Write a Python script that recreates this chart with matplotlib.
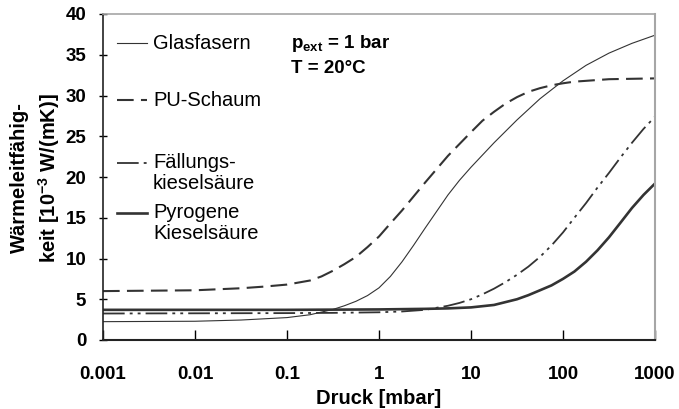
import matplotlib.pyplot as plt

plt.rcParams['font.family'] = ['Liberation Sans', 'DejaVu Sans']
plt.rcParams['mathtext.fontset'] = 'custom'
plt.rcParams['mathtext.rm'] = 'Liberation Sans'
plt.rcParams['mathtext.bf'] = 'Liberation Sans:bold'

# Druck [mbar] und Waermeleitfaehigkeit [1e-3 W/(mK)]
glas_p = [0.001, 0.01, 0.0316, 0.0562, 0.1, 0.178, 0.316, 0.42, 0.562, 0.75, 1, 1.33, 1.78, 2.37,
          3.16, 5.62, 7.5, 10, 17.8, 31.6, 56.2, 100, 178, 316, 562, 1000]
glas_v = [2.25, 2.3, 2.45, 2.6, 2.75, 3.1, 3.75, 4.2, 4.75, 5.45, 6.4, 7.8, 9.6, 11.6,
          13.7, 17.8, 19.6, 21.2, 24.2, 27.0, 29.6, 31.8, 33.7, 35.2, 36.4, 37.4]

pu_p = [0.001, 0.00316, 0.01, 0.0316, 0.0562, 0.1, 0.178, 0.237, 0.316, 0.42, 0.562, 0.75, 1, 1.33,
        1.78, 3.16, 5.62, 10, 13.3, 17.8, 23.7, 31.6, 42, 56.2, 75, 100, 133, 178, 316, 1000]
pu_v = [6.0, 6.05, 6.1, 6.35, 6.55, 6.8, 7.3, 7.8, 8.5, 9.3, 10.2, 11.4, 12.7, 14.3,
        15.9, 19.3, 22.6, 25.5, 26.9, 28.0, 29.0, 29.8, 30.45, 30.9, 31.25, 31.5, 31.7, 31.8, 32.0, 32.1]

fall_p = [0.001, 0.1, 0.316, 1, 1.78, 3.16, 5.62, 7.5, 10, 13.3, 17.8, 23.7, 31.6, 42, 56.2, 75,
          100, 133, 178, 237, 316, 422, 562, 750, 1000]
fall_v = [3.25, 3.3, 3.33, 3.4, 3.5, 3.7, 4.2, 4.55, 5.0, 5.6, 6.3, 7.1, 8.0, 9.0, 10.2, 11.6,
          13.2, 15.0, 16.8, 18.7, 20.5, 22.4, 24.2, 25.9, 27.4]

pyro_p = [0.001, 0.1, 1, 3.16, 5.62, 10, 17.8, 31.6, 42, 56.2, 75, 100, 133, 178, 237, 316, 422,
          562, 750, 1000]
pyro_v = [3.7, 3.7, 3.75, 3.82, 3.88, 4.0, 4.3, 5.0, 5.5, 6.1, 6.7, 7.5, 8.4, 9.6, 11.0, 12.6, 14.4,
          16.2, 17.8, 19.2]

x_ticks = [0.001, 0.01, 0.1, 1, 10, 100, 1000]
x_labels = ['0.001', '0.01', '0.1', '1', '10', '100', '1000']
y_ticks = [0, 5, 10, 15, 20, 25, 30, 35, 40]

farbe = '#333333'
stil_glas = dict(color=farbe, lw=0.8, ls='-')
stil_pu = dict(color=farbe, lw=1.5, ls=(0, (8, 3.5)))
stil_fall = dict(color=farbe, lw=1.3, ls=(0, (12, 2.8, 1.6, 2.8, 1.6, 2.8)))
stil_pyro = dict(color=farbe, lw=1.9, ls='-')

fig = plt.figure(figsize=(6.79, 4.09), dpi=100)
ax = fig.add_axes([103 / 679, 69 / 409, 552 / 679, 326 / 409])

ax.plot(glas_p, glas_v, **stil_glas)
ax.plot(pu_p, pu_v, **stil_pu)
ax.plot(fall_p, fall_v, **stil_fall)
ax.plot(pyro_p, pyro_v, **stil_pyro)

ax.set_xscale('log')
ax.set_xlim(0.001, 1000)
ax.set_ylim(0, 40)
ax.set_xticks(x_ticks)
ax.set_xticklabels(x_labels)
ax.minorticks_off()
ax.set_yticks(y_ticks)
ax.tick_params(axis='x', direction='in', length=7, width=1, pad=19, labelsize=13.5)
ax.tick_params(axis='y', direction='inout', length=6, width=1, pad=9, labelsize=13.5)
for lab in ax.get_xticklabels() + ax.get_yticklabels():
    lab.set_fontweight('bold')

ax.spines['left'].set_color('#222222')
ax.spines['bottom'].set_color('#222222')
ax.spines['left'].set_linewidth(1.2)
ax.spines['bottom'].set_linewidth(1.5)
ax.spines['top'].set_color('#a6a6a6')
ax.spines['right'].set_color('#a6a6a6')
ax.spines['top'].set_linewidth(1.2)
ax.spines['right'].set_linewidth(1.5)

ax.set_xlabel('Druck [mbar]', fontsize=14.5, fontweight='bold')
ax.xaxis.set_label_coords(0.5, -0.178)
ax.xaxis.label.set_va('center')
ax.set_ylabel('Wärmeleitfähig-\nkeit [10$^{\\mathbf{-3}}$ W/(mK)]', fontsize=14.5, fontweight='bold',
              linespacing=1.35)
ax.yaxis.set_label_coords(-0.122, 0.497)
ax.yaxis.label.set_va('center')

# Legende von Hand, wie im Original
eintraege = [(stil_glas, ['Glasfasern'], 0.911),
             (stil_pu, ['PU-Schaum'], 0.736),
             (stil_fall, ['Fällungs-', 'kieselsäure'], 0.543),
             (stil_pyro, ['Pyrogene', 'Kieselsäure'], 0.390)]
for stil, zeilen, y in eintraege:
    ax.plot([0.0254, 0.0797], [y, y], transform=ax.transAxes, **stil)
    for i, z in enumerate(zeilen):
        ax.text(0.0906, y - i * 0.064, z, transform=ax.transAxes, fontsize=14.5, va='center', ha='left')

ax.text(0.341, 0.911, 'p$_{\\mathbf{ext}}$ = 1 bar', transform=ax.transAxes, fontsize=13.5,
        fontweight='bold', va='center')
ax.text(0.341, 0.834, 'T = 20°C', transform=ax.transAxes, fontsize=13.5, fontweight='bold', va='center')

plt.savefig('out.png', dpi=100)
